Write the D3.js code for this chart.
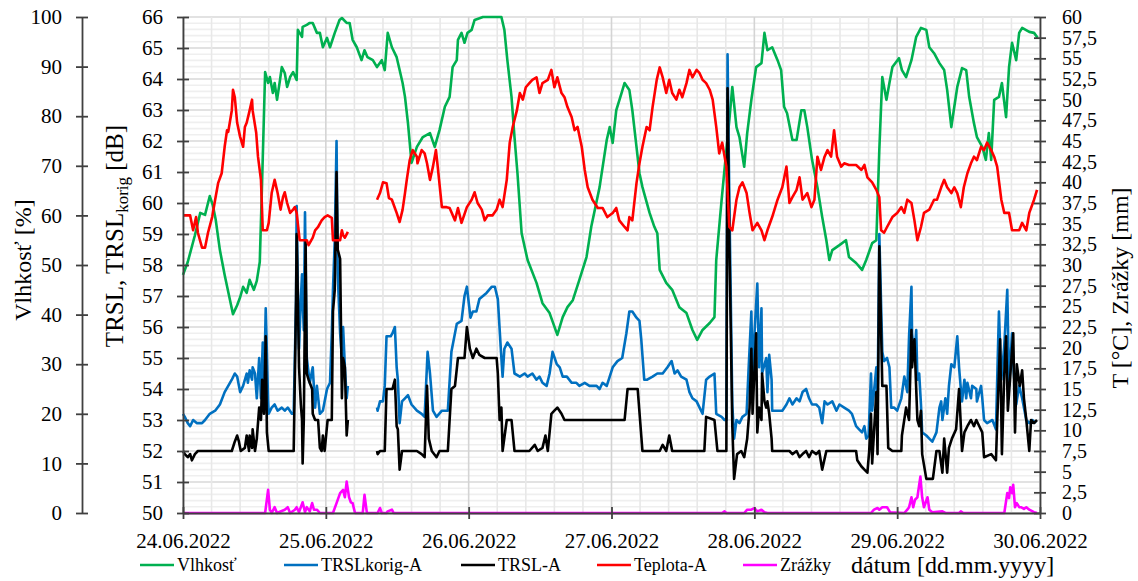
<!DOCTYPE html>
<html><head><meta charset="utf-8">
<script src="https://cdn.jsdelivr.net/npm/d3@7"></script>
<style>
body{margin:0;background:#fff}
svg text{font-family:"Liberation Serif",Tinos,"Times New Roman",Times,"DejaVu Serif","Noto Serif",FreeSerif,serif !important;fill:#000}
</style>
</head><body>
<svg id="c" width="1138" height="581"></svg>
<script>
// ---------------- DATA (time = hours since 24.06.2022 00:00) ----------------
const dayTicks = ["24.06.2022","25.06.2022","26.06.2022","27.06.2022","28.06.2022","29.06.2022","30.06.2022"];
const humTicks = [0,10,20,30,40,50,60,70,80,90,100];
const dbTicks = [50,51,52,53,54,55,56,57,58,59,60,61,62,63,64,65,66];
const tempTicks = [0,2.5,5,7.5,10,12.5,15,17.5,20,22.5,25,27.5,30,32.5,35,37.5,40,42.5,45,47.5,50,52.5,55,57.5,60];
const seriesNames = ["Vlhkosť","TRSLkorig-A","TRSL-A","Teplota-A","Zrážky"];
const seriesColors = ["#00b050","#0070c0","#000000","#ff0000","#ff00ff"];

const vlhkost = [[0,48.0],[0.8,50.6],[2.0,56.0],[2.9,60.5],[3.7,60.1],[4.5,63.9],[5.0,62.1],[5.5,59.1],[6.2,53.0],[7.0,48.0],[7.9,42.9],[8.4,40.1],[9.1,41.9],[9.6,43.5],[10.1,45.6],[10.7,44.4],[11.2,47.0],[11.9,45.0],[12.4,46.8],[12.9,50.6],[13.3,67.1],[13.8,88.9],[14.3,86.7],[14.6,87.9],[15.1,84.7],[15.4,86.7],[15.8,83.3],[16.3,87.3],[16.6,89.9],[17.1,88.7],[17.5,85.9],[18.0,87.9],[18.5,88.9],[19.1,87.3],[19.3,97.4],[20.0,96.0],[20.1,98.0],[20.8,98.4],[21.3,98.8],[21.8,98.8],[22.5,96.8],[23.0,96.8],[23.5,93.9],[24.2,95.8],[24.7,93.9],[25.5,96.8],[26.3,99.4],[26.7,99.8],[27.5,98.8],[28.0,98.8],[28.5,95.4],[29.2,93.9],[30.0,91.3],[30.5,93.3],[31.0,91.9],[31.9,91.3],[32.6,89.9],[33.4,91.3],[33.9,89.3],[34.4,96.8],[35.1,93.9],[35.9,91.9],[36.4,89.3],[36.9,86.7],[37.3,83.9],[37.8,78.6],[38.4,70.6],[39.3,73.8],[40.3,75.8],[41.5,76.6],[42.3,73.8],[43.1,77.2],[44.0,81.9],[44.8,83.9],[45.3,89.9],[46.0,91.3],[46.2,95.4],[46.8,96.8],[47.3,94.8],[47.8,96.8],[48.5,97.4],[49.0,99.4],[50.4,100],[53.5,100],[54.0,97.4],[54.5,91.3],[55.2,83.9],[55.7,75.8],[56.2,68.5],[56.9,56.4],[57.9,51.0],[59.4,46.4],[60.4,42.3],[61.6,40.3],[62.9,35.9],[63.8,39.5],[64.6,41.5],[65.5,42.9],[66.6,47.0],[67.8,51.6],[68.6,57.7],[70.0,65.7],[71.2,75.2],[71.7,77.8],[72.2,74.6],[72.8,81.2],[73.7,84.7],[74.2,86.7],[75.0,85.3],[75.5,81.2],[76.2,73.8],[76.7,68.5],[77.2,65.7],[78.4,60.5],[79.2,57.7],[79.7,56.4],[80.1,49.0],[81.2,46.4],[82.2,45.0],[83.4,41.5],[84.6,40.3],[85.6,36.9],[86.4,34.9],[87.3,36.9],[88.5,38.3],[89.3,39.5],[89.6,51.0],[90.5,63.1],[91.3,73.2],[91.8,79.2],[92.3,85.9],[93.0,77.8],[93.5,75.8],[94.3,69.8],[94.8,76.6],[95.5,83.3],[96.3,89.9],[97.2,90.7],[97.7,96.8],[98.2,93.3],[99.0,93.9],[99.9,91.3],[100.5,89.3],[101.0,81.9],[101.5,80.6],[102.4,75.2],[103.1,75.2],[103.9,81.2],[104.4,81.2],[104.9,77.8],[105.7,71.2],[106.6,65.7],[107.4,59.7],[108.1,55.0],[108.6,51.0],[109.1,53.0],[110.3,54.0],[111.4,55.0],[111.9,51.6],[113.1,50.4],[114.1,49.0],[114.8,51.0],[115.8,54.4],[116.5,55.0],[117.0,73.2],[117.5,87.9],[118.2,83.3],[118.7,86.7],[119.2,89.9],[119.8,90.9],[120.3,91.7],[120.8,89.3],[121.5,87.9],[122.4,91.3],[123.2,96.0],[124.0,97.8],[124.9,97.4],[125.4,93.9],[126.2,92.7],[127.1,90.7],[127.9,89.3],[128.4,85.3],[129.1,77.8],[129.6,81.9],[130.1,85.9],[130.9,89.7],[131.6,89.3],[132.1,83.9],[132.9,78.6],[133.4,75.8],[134.3,73.8],[134.9,71.2],[135.4,76.6],[135.8,71.2],[136.3,83.3],[137.1,83.9],[137.6,86.7],[138.3,79.8],[138.8,89.9],[139.3,94.8],[140.0,91.3],[140.5,96.8],[141.0,97.8],[142.2,97.0],[143.0,96.8],[143.6,95.8]];

const trslKorig = [[0,53.2],[0.3,53.1],[0.8,52.9],[1.2,52.8],[1.7,53.0],[2.3,52.9],[3.2,52.9],[3.7,53.0],[4.5,53.2],[5.4,53.3],[6.2,53.5],[7.0,53.9],[7.6,54.1],[8.2,54.3],[8.7,54.5],[9.1,54.4],[9.6,53.9],[10.1,54.1],[10.7,54.5],[10.9,54.2],[11.2,54.6],[11.6,54.3],[11.7,54.7],[12.1,54.5],[12.4,53.7],[12.8,55.0],[13.1,53.7],[13.4,55.5],[13.6,53.7],[13.9,56.6],[14.3,53.6],[14.4,53.2],[14.9,53.4],[15.4,53.5],[15.9,53.3],[16.6,53.4],[17.1,53.3],[17.6,53.4],[18.3,53.2],[18.6,53.2],[19.0,56.9],[19.1,59.9],[19.3,57.2],[19.5,55.3],[19.8,56.9],[20.0,57.7],[20.1,56.9],[20.3,55.9],[20.5,59.7],[20.8,55.0],[21.3,54.2],[21.8,54.7],[22.2,53.4],[22.5,54.1],[23.0,53.2],[23.5,53.3],[24.2,54.0],[24.7,54.2],[25.0,55.8],[25.2,57.2],[25.5,58.8],[25.8,62.0],[26.0,57.7],[26.4,55.8],[26.7,55.0],[26.9,56.0],[27.2,54.7],[27.5,53.7],[27.7,54.1],[30,null],[32.6,53.4],[32.7,53.3],[33.1,53.6],[33.6,53.6],[33.9,54.1],[34.2,55.7],[34.9,55.7],[35.2,55.8],[35.6,56.0],[35.9,54.7],[36.1,54.3],[36.4,52.9],[36.8,53.6],[37.3,53.7],[37.8,53.8],[38.4,53.5],[39.3,53.3],[40.1,53.2],[40.6,53.1],[41.1,55.2],[41.5,54.5],[42.0,53.3],[42.6,53.1],[43.5,53.3],[44.5,53.3],[45.1,55.2],[46.0,56.1],[46.8,56.2],[47.3,57.0],[47.7,57.3],[48.3,56.3],[48.7,56.5],[49.3,56.5],[49.8,56.9],[50.4,57.0],[51.0,57.1],[51.9,57.3],[52.4,57.3],[52.9,56.9],[53.4,55.3],[53.7,54.4],[54.0,55.3],[54.5,55.5],[55.2,55.3],[55.7,54.5],[56.6,54.4],[57.4,54.5],[57.9,54.4],[58.7,54.5],[59.4,54.3],[59.9,54.4],[60.4,54.2],[61.1,54.1],[61.6,54.5],[62.1,55.2],[62.8,54.8],[63.3,54.7],[63.8,54.4],[64.5,54.4],[65.3,54.2],[66.1,54.2],[66.6,54.1],[67.5,54.2],[68.3,54.1],[69.5,54.1],[70.0,54.0],[70.5,54.2],[71.2,54.1],[71.7,54.4],[72.2,54.7],[73.0,54.9],[73.8,55.0],[74.5,55.8],[75.0,56.5],[75.5,56.5],[76.2,56.3],[76.7,56.2],[77.0,55.6],[77.5,54.3],[78.0,54.3],[78.9,54.4],[79.7,54.5],[80.6,54.5],[81.4,54.7],[82.1,54.9],[82.6,54.5],[83.1,54.6],[83.7,54.4],[84.6,54.3],[85.1,53.9],[85.6,53.7],[86.3,53.6],[86.8,53.4],[87.3,53.2],[87.9,54.3],[88.5,54.4],[89.3,54.5],[89.6,53.2],[90.5,53.1],[91.0,53.0],[91.3,53.0],[91.5,64.8],[91.8,60.1],[92.3,53.5],[92.6,52.4],[93.0,53.0],[93.5,52.9],[94.0,53.1],[94.7,53.2],[95.0,54.5],[95.5,56.5],[95.7,54.5],[96.0,55.7],[96.5,57.4],[96.8,54.7],[97.2,56.6],[97.3,54.5],[98.0,55.0],[98.2,53.9],[98.5,55.1],[98.9,54.3],[99.0,53.3],[99.9,53.3],[100.7,53.3],[101.4,53.5],[101.9,53.7],[102.4,53.5],[103.1,53.7],[103.6,53.6],[104.1,53.9],[104.7,54.0],[105.2,53.7],[105.7,53.5],[106.4,53.5],[106.9,53.4],[107.4,52.9],[107.8,53.6],[108.3,53.5],[109.1,53.6],[109.8,53.3],[110.3,53.5],[111.1,53.4],[111.9,53.3],[112.4,53.2],[113.1,52.8],[113.6,52.7],[114.1,52.6],[114.5,52.8],[114.8,52.4],[115.2,52.5],[115.6,54.5],[115.8,53.3],[116.5,54.7],[116.7,53.4],[117.0,59.0],[117.5,55.2],[117.8,54.9],[118.3,55.0],[118.7,54.7],[119.0,53.4],[119.5,53.4],[120.0,53.3],[120.7,53.7],[121.2,54.4],[121.7,53.9],[122.0,55.7],[122.4,57.3],[122.5,55.8],[122.9,55.0],[123.2,55.9],[123.4,54.3],[123.7,54.5],[124.0,53.5],[124.2,52.6],[124.9,52.5],[125.4,52.4],[125.9,52.3],[126.6,52.6],[127.1,53.4],[127.4,53.6],[127.6,53.0],[128.1,53.7],[128.4,53.2],[128.7,54.1],[129.1,54.8],[129.6,54.7],[130.1,55.7],[130.4,54.7],[130.7,54.0],[130.9,53.6],[131.3,54.3],[131.6,53.7],[131.8,54.2],[132.4,53.7],[132.6,54.1],[133.3,54.0],[133.4,53.6],[134.1,54.1],[134.3,53.7],[134.6,53.0],[135.1,52.9],[136.0,53.0],[136.6,52.7],[137.1,56.5],[137.5,54.3],[138.0,55.4],[138.5,57.2],[138.8,54.1],[139.3,55.8],[139.6,54.5],[140.0,53.5],[140.5,54.1],[141.0,53.7],[141.7,53.0],[142.2,52.9],[142.7,53.0],[143.3,52.9]];

const trsl = [[0,52.0],[0.3,51.9],[0.8,51.8],[1.2,51.9],[1.5,51.7],[2.0,51.9],[2.5,52.0],[8.2,52.0],[8.7,52.3],[9.1,52.5],[9.4,52.3],[9.7,52.0],[10.4,52.1],[10.7,52.5],[11.1,52.0],[11.2,52.5],[11.6,52.1],[11.7,52.7],[12.1,52.0],[12.4,52.4],[12.8,53.4],[13.1,53.0],[13.3,54.3],[13.6,53.2],[13.9,55.7],[14.1,52.6],[14.4,52.0],[18.6,52.0],[19.0,56.9],[19.1,59.0],[19.3,56.9],[19.5,54.7],[19.8,53.5],[20.0,53.0],[20.1,51.6],[20.3,53.0],[20.6,58.8],[20.8,54.5],[21.1,54.3],[21.7,54.0],[21.8,53.2],[22.2,53.0],[22.7,53.0],[23.0,52.1],[23.3,52.0],[23.5,52.5],[23.8,52.0],[24.3,53.0],[25.0,53.0],[25.2,56.5],[25.5,57.2],[25.8,61.0],[26.0,58.5],[26.4,58.2],[26.7,53.7],[26.9,55.0],[27.2,54.7],[27.5,52.5],[27.7,53.0],[30,null],[32.6,52.0],[32.7,51.9],[33.1,52.0],[33.9,52.0],[34.2,54.0],[35.2,54.0],[35.6,54.3],[35.9,52.8],[36.1,52.7],[36.4,51.4],[36.8,52.0],[39.3,52.0],[40.1,51.9],[40.6,51.8],[41.0,54.1],[41.3,52.4],[41.8,52.0],[42.6,51.8],[43.1,52.0],[44.5,52.0],[45.1,54.0],[45.7,54.1],[46.2,55.0],[47.3,55.0],[47.7,56.0],[48.2,55.3],[48.7,55.0],[49.3,55.3],[49.8,55.1],[50.7,55.0],[52.7,55.0],[52.9,54.5],[53.2,53.0],[53.5,53.4],[53.7,52.0],[54.4,53.0],[55.2,53.0],[55.7,52.0],[58.2,52.0],[59.1,52.2],[59.6,52.0],[60.4,52.1],[60.9,52.5],[61.3,52.0],[61.9,53.2],[62.4,53.3],[62.9,53.4],[63.6,53.2],[64.1,53.0],[74.2,53.0],[74.7,54.0],[76.4,54.0],[77.2,52.0],[80.1,52.0],[80.6,52.2],[81.2,52.0],[81.7,52.5],[82.2,52.0],[87.6,52.0],[87.9,53.1],[89.3,53.0],[89.8,52.0],[91.3,52.0],[91.5,63.7],[91.8,58.8],[92.3,52.8],[92.6,51.1],[93.1,51.9],[93.8,52.0],[94.3,51.8],[94.8,52.4],[95.2,53.4],[95.5,55.3],[95.7,53.2],[96.0,54.5],[96.3,55.8],[96.5,52.6],[96.8,53.4],[97.2,53.0],[97.3,54.5],[97.7,53.6],[98.0,53.4],[98.2,53.6],[98.5,53.2],[98.9,52.4],[99.0,52.0],[101.9,52.0],[102.4,51.9],[103.1,52.0],[103.6,51.8],[104.1,51.9],[104.7,52.0],[105.2,51.8],[105.7,52.0],[106.4,51.9],[106.9,52.0],[107.4,51.4],[108.1,52.0],[113.1,52.0],[113.3,51.7],[114.0,51.5],[114.5,51.4],[115.0,51.3],[115.3,52.0],[115.6,53.2],[115.8,51.6],[116.5,53.9],[116.7,51.9],[117.0,58.6],[117.5,54.1],[118.2,54.1],[118.5,52.1],[119.2,52.0],[120.7,52.0],[120.8,52.5],[121.5,53.4],[122.0,53.0],[122.4,55.9],[122.5,54.7],[122.9,55.6],[123.2,54.0],[123.4,53.0],[123.7,52.8],[124.0,53.3],[124.2,51.9],[124.9,51.1],[126.0,51.1],[126.6,52.0],[127.1,52.0],[127.6,51.3],[127.9,52.4],[128.4,51.3],[128.7,52.1],[129.2,52.4],[129.9,52.7],[130.4,54.0],[130.9,52.0],[131.3,52.6],[131.8,52.8],[132.4,53.0],[132.9,52.8],[133.3,53.0],[133.8,52.8],[134.3,52.6],[134.6,51.8],[135.8,51.9],[136.6,51.7],[136.8,52.9],[137.3,55.6],[137.6,51.9],[138.0,54.5],[138.3,55.7],[138.6,53.3],[139.1,54.7],[139.5,55.8],[139.8,52.6],[140.1,54.8],[140.6,54.1],[141.0,54.6],[141.3,53.7],[141.7,53.0],[142.2,52.0],[142.5,53.0],[143.0,52.9],[143.5,53.0]];

const teplota = [[0,36.0],[1.2,36.0],[1.7,34.2],[2.2,35.8],[2.5,33.9],[3.2,32.1],[3.7,32.1],[4.2,33.9],[4.9,35.8],[5.4,37.9],[5.9,39.9],[6.5,41.1],[7.0,44.3],[7.4,46.3],[7.6,46.1],[8.2,48.7],[8.4,51.2],[8.7,50.3],[9.1,47.2],[9.6,45.5],[10.1,44.3],[10.4,46.7],[10.7,47.2],[11.1,48.4],[11.6,50.0],[11.7,48.7],[12.3,46.0],[12.6,43.1],[13.1,40.3],[13.4,34.2],[14.1,34.2],[14.4,35.1],[14.9,38.7],[15.4,40.3],[15.9,38.7],[16.4,36.7],[16.8,38.2],[17.1,38.8],[17.5,37.5],[18.0,36.3],[18.5,36.7],[18.8,37.0],[19.1,36.3],[19.6,33.0],[20.8,33.0],[21.1,32.4],[21.8,33.3],[22.2,34.2],[22.7,34.6],[23.3,35.4],[23.8,35.8],[24.3,36.0],[25.0,35.7],[25.2,33.0],[26.4,33.0],[26.7,34.2],[26.9,33.6],[27.2,33.3],[27.7,34.0],[30,null],[32.6,37.9],[33.1,38.7],[33.6,40.0],[34.2,39.9],[34.6,38.1],[35.1,37.9],[35.6,36.9],[35.9,36.3],[36.4,35.2],[36.9,36.7],[37.3,38.7],[37.6,40.3],[38.1,42.7],[38.6,43.9],[39.3,43.1],[39.4,42.3],[40.1,43.9],[40.6,43.5],[41.0,42.3],[41.5,40.3],[42.0,41.9],[42.5,43.9],[42.8,41.9],[43.5,37.0],[44.3,37.0],[44.8,36.9],[45.7,35.4],[46.2,36.9],[46.8,35.1],[47.7,37.0],[48.5,37.9],[49.0,38.8],[49.5,37.5],[50.2,36.7],[50.7,35.4],[51.2,36.0],[52.0,36.0],[52.7,36.7],[53.2,37.9],[53.7,37.0],[54.4,40.3],[54.9,44.8],[55.4,46.7],[56.1,48.7],[56.6,50.8],[57.1,50.0],[57.6,51.5],[58.2,52.0],[58.7,52.4],[59.4,52.7],[59.9,50.8],[60.4,52.0],[61.3,52.4],[61.9,53.6],[62.4,51.5],[62.9,52.7],[63.6,50.8],[64.1,50.3],[64.6,49.1],[65.3,47.9],[65.8,46.3],[66.3,46.7],[67.0,44.3],[67.5,41.5],[68.0,39.4],[68.8,37.9],[69.7,36.9],[70.5,36.9],[71.3,35.8],[72.2,36.3],[72.8,36.9],[73.3,35.4],[74.2,34.6],[74.7,34.2],[75.0,35.8],[75.5,35.4],[76.2,39.9],[76.7,42.3],[77.2,44.3],[77.9,46.7],[78.4,46.3],[78.9,49.1],[79.6,52.4],[80.1,53.9],[80.6,52.7],[81.2,50.8],[81.7,52.4],[82.2,50.8],[82.9,50.0],[83.4,51.2],[83.9,50.3],[84.6,52.0],[85.1,53.6],[85.6,52.7],[86.3,53.6],[86.8,53.2],[87.3,52.4],[87.9,52.0],[88.5,51.2],[89.0,50.0],[89.6,46.7],[90.1,43.5],[90.6,44.8],[91.3,41.9],[91.8,34.6],[92.3,34.2],[93.0,37.9],[93.5,39.4],[94.0,40.0],[94.7,38.7],[95.2,36.3],[95.7,34.2],[96.5,35.1],[97.2,34.2],[97.7,33.0],[98.2,34.2],[99.0,35.8],[99.9,37.9],[100.7,39.4],[101.4,41.9],[101.9,37.5],[102.4,38.2],[103.1,39.1],[103.6,40.6],[104.1,37.9],[104.9,38.7],[105.6,37.0],[106.1,37.9],[106.6,43.1],[107.2,41.5],[107.8,43.1],[108.3,43.9],[108.9,43.1],[109.4,46.3],[109.9,43.1],[110.6,41.9],[111.1,42.3],[111.9,42.1],[113.1,42.1],[114.0,41.5],[114.5,42.1],[115.0,40.6],[115.8,40.0],[116.5,39.1],[117.0,38.2],[117.3,34.2],[117.8,33.9],[118.3,34.6],[119.2,35.8],[120.0,36.3],[120.7,37.0],[121.2,36.3],[121.7,37.9],[122.4,37.5],[122.9,35.4],[123.4,33.0],[124.0,34.6],[124.5,36.3],[125.4,36.7],[126.2,37.9],[126.7,37.9],[127.4,39.4],[127.9,40.3],[128.4,39.4],[129.1,38.7],[129.6,39.4],[130.1,38.7],[130.7,37.0],[131.2,39.4],[131.8,41.1],[132.4,42.3],[132.9,43.1],[133.4,42.7],[134.1,44.3],[134.6,43.9],[135.1,44.8],[135.8,43.9],[136.3,43.1],[136.8,41.9],[137.5,37.9],[138.0,36.3],[138.8,36.3],[139.3,34.2],[140.5,34.2],[141.0,35.1],[141.7,34.2],[142.2,36.3],[143.0,37.9],[143.5,39.1]];

const zrazky = [[0,0],[13.8,0],[14.3,2.8],[14.6,0.4],[14.9,0],[15.4,0.7],[15.8,0],[17.1,0.4],[17.6,0.7],[18.0,0],[18.8,0.4],[19.1,0.7],[19.5,0.1],[20.1,1.3],[20.5,0.1],[20.8,0.7],[21.3,0.2],[21.7,1.2],[22.0,0.4],[22.5,0.4],[23.0,0],[25.2,0],[25.8,1.2],[26.4,2.4],[26.9,2.8],[27.2,1.9],[27.5,3.8],[27.9,1.9],[28.2,1.3],[28.5,1.2],[28.9,0],[30.2,0],[30.5,2.2],[30.9,0],[32.7,0],[33.1,0.6],[33.4,0],[34.2,0],[34.4,0.2],[35.1,0.4],[35.4,0],[90.6,0],[91.0,0.2],[91.3,0],[94.3,0],[94.8,0.4],[95.5,0.4],[96.0,0.6],[96.5,0.2],[97.2,0.4],[97.7,0.1],[98.2,0],[115.6,0],[116.1,0.4],[116.7,0.6],[117.0,0.4],[117.5,0.7],[118.3,0.7],[118.8,0.1],[121.2,0],[121.7,0.4],[122.0,0.7],[122.4,1.9],[122.7,0.7],[123.0,1.6],[123.4,1.9],[123.9,4.4],[124.2,1.9],[124.5,0.7],[125.1,1.9],[125.4,0.4],[125.9,0.1],[127.6,0.2],[128.1,0],[130.4,0],[130.7,0.2],[131.1,0],[138.0,0],[138.5,2.4],[138.8,1.8],[139.0,3.1],[139.3,2.4],[139.5,3.4],[139.8,0.7],[140.1,1.2],[140.5,0.7],[140.8,0.7],[141.3,0.5],[141.7,0.7],[142.2,0.4],[143.0,0.1],[143.5,0]];

// ---------------- LAYOUT ----------------
const svg = d3.select("#c");
const L = 183, R = 1040, T = 17, B = 513;
const t0 = Date.UTC(2022,5,24), t1 = Date.UTC(2022,5,30);
const toDate = h => new Date(t0 + h*3600e3);
const x = d3.scaleUtc().domain([new Date(t0), new Date(t1)]).range([L, R]);
const yDb = d3.scaleLinear().domain([50,66]).range([B,T]);
const yHum = d3.scaleLinear().domain([0,100]).range([B,T]);
const yT = d3.scaleLinear().domain([0,60]).range([B,T]);

// grid
const grid = svg.append("g");
const dbMinor = d3.range(50, 66.01, 0.2);
grid.selectAll(".hm").data(dbMinor).join("line")
  .attr("x1", L).attr("x2", R).attr("y1", d=>yDb(d)).attr("y2", d=>yDb(d))
  .attr("stroke", (d)=> Math.abs(d-Math.round(d))<1e-6 ? "#d9d9d9" : "#efefef").attr("stroke-width", 1.6);
const vMinor = d3.range(0, 144.01, 4.8);
grid.selectAll(".vm").data(vMinor).join("line")
  .attr("y1", T).attr("y2", B).attr("x1", d=>x(toDate(d))).attr("x2", d=>x(toDate(d)))
  .attr("stroke", d => Math.abs(d/24-Math.round(d/24))<1e-6 ? "#d4d4d4" : "#e8e8e8").attr("stroke-width", 1.6);

// series
function lineFor(y){ return d3.line().defined(d=>d[1]!=null).x(d=>x(toDate(d[0]))).y(d=>y(d[1])); }
const plot = svg.append("g").attr("fill","none").attr("stroke-width",2.6).attr("stroke-linejoin","round");
plot.append("path").datum(vlhkost).attr("stroke",seriesColors[0]).attr("d",lineFor(yHum));
plot.append("path").datum(trslKorig).attr("stroke",seriesColors[1]).attr("d",lineFor(yDb));
plot.append("path").datum(trsl).attr("stroke",seriesColors[2]).attr("d",lineFor(yDb));
plot.append("path").datum(teplota).attr("stroke",seriesColors[3]).attr("d",lineFor(yT));
plot.append("path").datum(zrazky).attr("stroke",seriesColors[4]).attr("d",lineFor(yT));

// axes
function crossTicks(g, horiz, fs){
  g.attr("font-family", null);
  g.select(".domain").attr("stroke","#404040").attr("stroke-width",1.8);
  g.selectAll(".tick line").attr("stroke","#404040").attr("stroke-width",1.8);
  if(horiz) g.selectAll(".tick line").attr("y1",-6).attr("y2",6);
  else g.selectAll(".tick line").attr("x1",-6).attr("x2",6);
  g.selectAll("text").attr("font-size",fs).attr("fill","#000");
}
const gHum = svg.append("g").attr("transform","translate(82,0)")
  .call(d3.axisLeft(yHum).tickValues(humTicks).tickSize(6).tickSizeOuter(0).tickPadding(14));
crossTicks(gHum,false,21);
const gDb = svg.append("g").attr("transform",`translate(${L},0)`)
  .call(d3.axisLeft(yDb).tickValues(dbTicks).tickSize(6).tickSizeOuter(0).tickPadding(14));
crossTicks(gDb,false,21);
const gT = svg.append("g").attr("transform",`translate(${R},0)`)
  .call(d3.axisRight(yT).tickValues(tempTicks).tickSize(6).tickSizeOuter(0).tickPadding(16)
    .tickFormat(d => String(d).replace(".", ",")));
crossTicks(gT,false,20);
const gX = svg.append("g").attr("transform",`translate(0,${B})`)
  .call(d3.axisBottom(x).tickValues(dayTicks.map((s,i)=>toDate(i*24))).tickSize(6).tickSizeOuter(0).tickPadding(14)
    .tickFormat((d,i)=>dayTicks[i]));
crossTicks(gX,true,21);

// axis titles
svg.append("text").attr("transform","translate(31,260) rotate(-90)").attr("text-anchor","middle")
  .attr("font-size",24).text("Vlhkosť [%]");
const tt = svg.append("text").attr("transform","translate(123,236) rotate(-90)").attr("text-anchor","middle")
  .attr("font-size",25);
tt.append("tspan").text("TRSL, TRSL");
tt.append("tspan").attr("font-size",17).attr("dy",5).text("korig");
tt.append("tspan").attr("dy",-5).text(" [dB]");
svg.append("text").attr("transform","translate(1128,288) rotate(-90)").attr("text-anchor","middle")
  .attr("font-size",24).text("T [°C], Zrážky [mm]");

// legend
const legX = [140, 284, 461, 597, 743];
const leg = svg.append("g");
seriesNames.forEach((n,i)=>{
  leg.append("line").attr("x1",legX[i]).attr("x2",legX[i]+34).attr("y1",565).attr("y2",565)
    .attr("stroke",seriesColors[i]).attr("stroke-width",2.6);
  leg.append("text").attr("x",legX[i]+37).attr("y",571).attr("font-size",18).text(n);
});
svg.append("text").attr("x",851).attr("y",573).attr("font-size",24).text("dátum [dd.mm.yyyy]");
</script>
</body></html>
